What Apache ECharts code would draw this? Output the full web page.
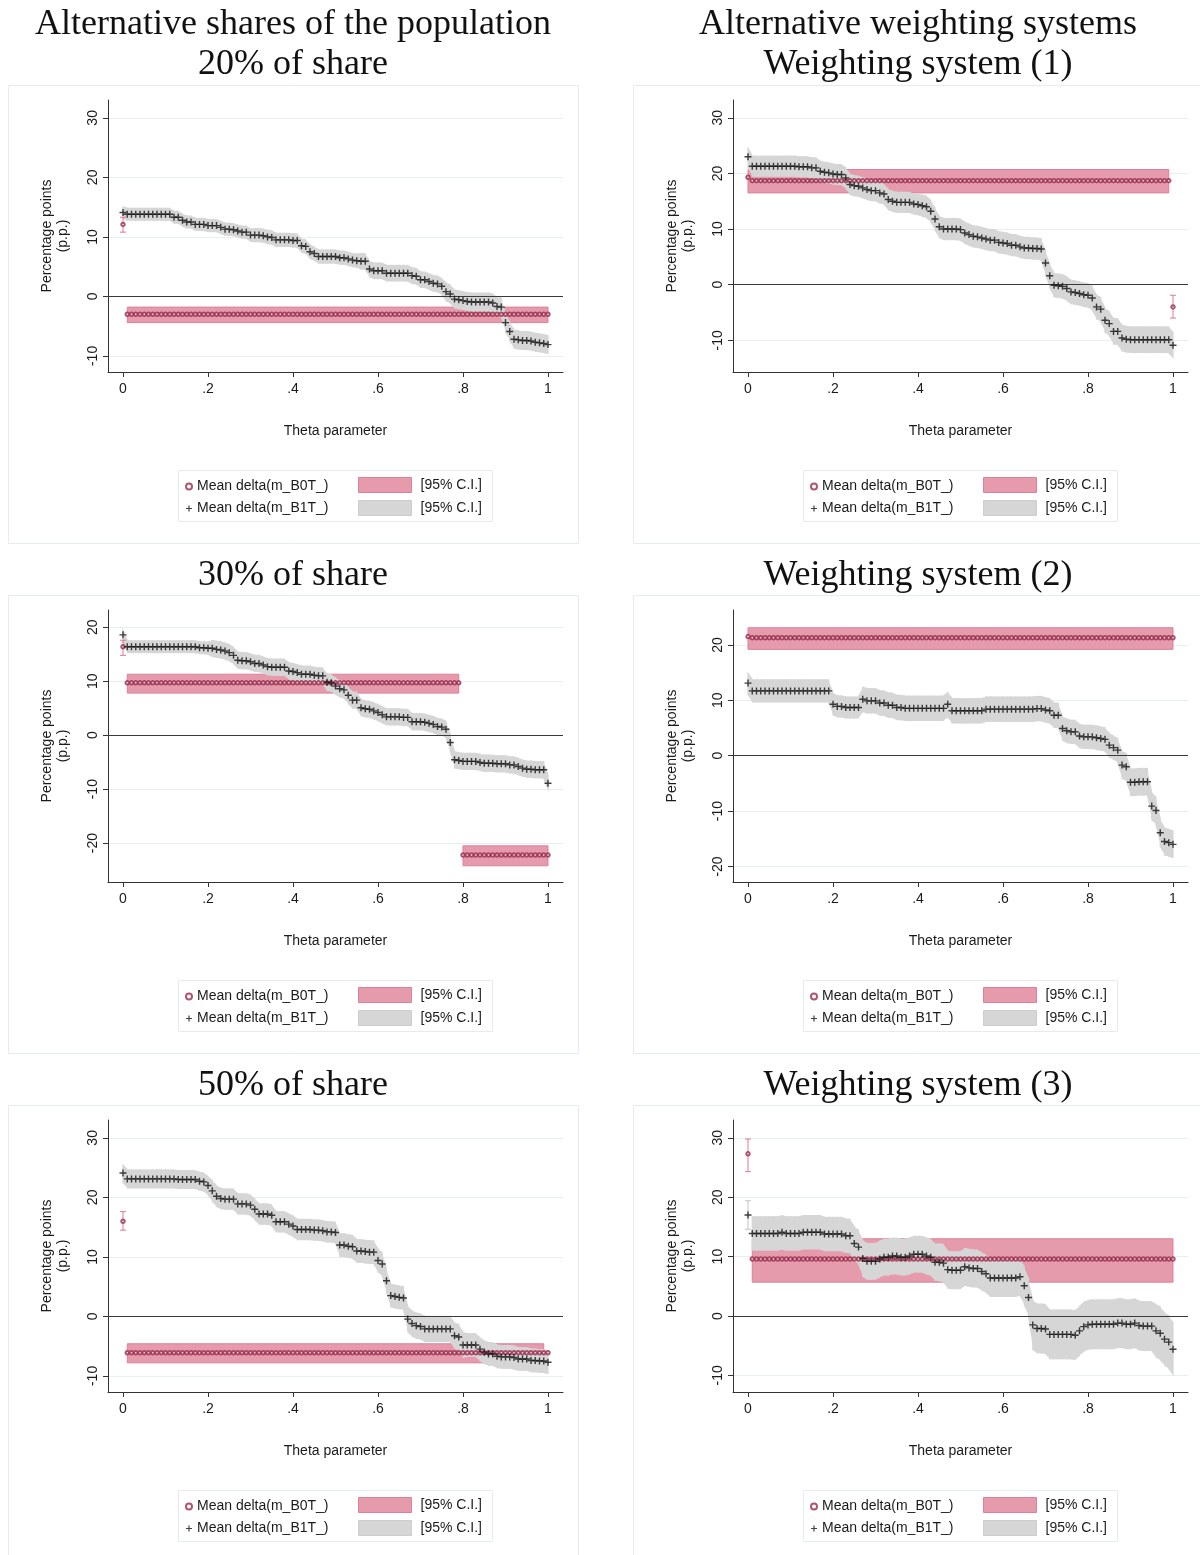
<!DOCTYPE html>
<html>
<head>
<meta charset="utf-8">
<script src="https://cdn.jsdelivr.net/npm/echarts/dist/echarts.min.js"></script>
<style>
  html, body { margin: 0; padding: 0; background: #fff; overflow: hidden; }
  body { position: relative; width: 1200px; height: 1555px; }
  .panel { position: absolute; width: 586px; height: 545px; }
</style>
</head>
<body>
<div class="panel" id="p0" style="left:0;top:0"></div>
<div class="panel" id="p1" style="left:625px;top:0"></div>
<div class="panel" id="p2" style="left:0;top:510px"></div>
<div class="panel" id="p3" style="left:625px;top:510px"></div>
<div class="panel" id="p4" style="left:0;top:1020px"></div>
<div class="panel" id="p5" style="left:625px;top:1020px"></div>
<script>
// theta grid goes 0, .01, ... 1 (101 points)
const thetaStep = 0.01
const xTicks = [0, 0.2, 0.4, 0.6, 0.8, 1]

// Mean delta(m_B1T_), one value per theta
const b1Share20 = [
  14.1, 13.8, 13.8, 13.8, 13.8, 13.8, 13.8, 13.8, 13.8, 13.8,
  13.8, 13.8, 13.3, 13.3, 12.8, 12.5, 12.5, 12.1, 12.1, 12.1,
  11.9, 11.9, 11.9, 11.6, 11.3, 11.3, 11.2, 11.0, 10.8, 10.8,
  10.3, 10.3, 10.3, 10.2, 10.0, 9.9, 9.5, 9.5, 9.5, 9.5,
  9.4, 9.4, 8.5, 8.4, 7.5, 7.2, 6.7, 6.7, 6.7, 6.7,
  6.7, 6.5, 6.5, 6.3, 6.1, 6.0, 5.9, 5.9, 4.6, 4.3,
  4.3, 4.3, 3.9, 3.9, 3.9, 3.9, 3.9, 3.9, 3.5, 3.4,
  2.8, 2.8, 2.5, 2.2, 2.1, 1.7, 0.8, 0.4, -0.45, -0.55,
  -0.7, -0.85, -0.95, -0.95, -0.95, -0.95, -0.95, -1.1, -1.7, -1.8,
  -4.4, -5.9, -7.2, -7.3, -7.4, -7.4, -7.5, -7.7, -7.8, -7.9, -8.1
]
const b1Ws1 = [
  23.0, 21.3, 21.3, 21.3, 21.3, 21.3, 21.3, 21.3, 21.3, 21.3,
  21.3, 21.3, 21.2, 21.2, 21.2, 21.0, 21.0, 20.4, 20.2, 20.1,
  19.9, 19.8, 19.8, 19.2, 18.0, 17.8, 17.7, 17.4, 17.1, 16.9,
  16.9, 16.5, 16.3, 15.3, 15.0, 14.8, 14.8, 14.8, 14.8, 14.5,
  14.4, 14.2, 14.0, 13.2, 11.8, 10.4, 10.0, 10.0, 10.0, 10.0,
  9.9, 9.3, 9.0, 8.7, 8.6, 8.4, 8.2, 8.0, 8.0, 7.6,
  7.5, 7.4, 7.1, 7.1, 6.8, 6.6, 6.6, 6.5, 6.5, 6.4,
  3.9, 1.6, -0.1, -0.2, -0.3, -0.7, -1.3, -1.4, -1.6, -1.8,
  -1.9, -2.4, -4.0, -4.4, -6.4, -7.0, -8.4, -8.4, -9.6, -9.8,
  -9.9, -9.9, -9.9, -9.9, -9.9, -9.9, -9.9, -9.9, -9.9, -9.9, -10.9
]
const b1Share30 = [
  18.6, 16.4, 16.4, 16.4, 16.4, 16.4, 16.4, 16.4, 16.4, 16.4,
  16.4, 16.4, 16.4, 16.4, 16.4, 16.4, 16.4, 16.4, 16.2, 16.2,
  16.1, 16.1, 15.9, 15.8, 15.6, 15.3, 14.8, 13.9, 13.8, 13.8,
  13.6, 13.3, 13.3, 13.0, 12.7, 12.6, 12.6, 12.6, 12.6, 11.9,
  11.8, 11.6, 11.3, 11.3, 11.3, 11.1, 11.0, 11.0, 9.8, 9.7,
  9.1, 8.6, 8.4, 7.4, 6.5, 6.5, 5.1, 4.9, 4.8, 4.5,
  4.2, 3.8, 3.4, 3.4, 3.4, 3.4, 3.3, 3.3, 2.5, 2.5,
  2.5, 2.4, 2.2, 2.0, 1.6, 1.5, 1.1, -1.35, -4.55, -4.7,
  -4.85, -4.85, -4.85, -4.85, -5.05, -5.2, -5.2, -5.2, -5.3, -5.3,
  -5.3, -5.5, -5.5, -5.8, -6.1, -6.3, -6.3, -6.4, -6.4, -6.4, -8.9
]
const b1Ws2 = [
  13.1, 11.7, 11.7, 11.7, 11.7, 11.7, 11.7, 11.7, 11.7, 11.7,
  11.7, 11.7, 11.7, 11.7, 11.7, 11.7, 11.7, 11.7, 11.7, 11.7,
  9.3, 8.9, 8.9, 8.7, 8.7, 8.7, 8.7, 10.2, 9.9, 9.9,
  9.9, 9.5, 9.5, 9.1, 9.1, 8.7, 8.7, 8.55, 8.55, 8.55,
  8.55, 8.55, 8.55, 8.55, 8.55, 8.55, 8.55, 9.3, 8.1, 8.1,
  8.1, 8.1, 8.1, 8.1, 8.1, 8.1, 8.4, 8.4, 8.4, 8.4,
  8.4, 8.4, 8.4, 8.4, 8.4, 8.4, 8.4, 8.4, 8.5, 8.5,
  8.25, 8.1, 7.3, 7.3, 4.9, 4.5, 4.3, 4.3, 3.55, 3.4,
  3.4, 3.4, 3.25, 3.1, 2.95, 1.9, 1.45, 1.0, -1.7, -2.0,
  -4.8, -4.8, -4.7, -4.7, -4.7, -9.1, -9.9, -13.9, -15.5, -15.7, -16.0
]
const b1Share50 = [
  24.1, 23.1, 23.1, 23.1, 23.1, 23.1, 23.1, 23.1, 23.1, 23.1,
  23.1, 23.1, 23.1, 23.0, 23.0, 23.0, 23.0, 23.0, 22.7, 22.6,
  22.0, 21.1, 20.2, 19.8, 19.7, 19.7, 19.7, 18.9, 18.9, 18.9,
  18.7, 18.0, 17.2, 17.2, 17.2, 17.0, 15.9, 15.9, 15.9, 15.5,
  15.2, 14.6, 14.6, 14.6, 14.6, 14.5, 14.5, 14.4, 14.2, 14.2,
  14.1, 12.0, 12.0, 11.8, 11.7, 11.0, 11.0, 10.9, 10.8, 10.8,
  9.4, 8.8, 6.0, 3.5, 3.35, 3.2, 3.1, -0.45, -1.2, -1.55,
  -1.7, -2.1, -2.1, -2.1, -2.1, -2.1, -2.1, -2.1, -3.25, -3.45,
  -4.8, -4.8, -4.8, -4.8, -5.5, -6.0, -6.3, -6.3, -6.7, -6.8,
  -6.8, -6.8, -6.9, -7.15, -7.15, -7.15, -7.4, -7.4, -7.5, -7.5, -7.7
]
const b1Ws3 = [
  17.0, 13.9, 13.9, 13.9, 13.9, 13.9, 13.9, 13.9, 14.1, 13.9,
  13.9, 13.9, 13.9, 14.1, 14.1, 14.1, 14.1, 14.1, 13.8, 13.8,
  13.8, 13.8, 13.8, 13.5, 13.5, 12.2, 11.6, 9.7, 9.2, 9.2,
  9.2, 9.6, 9.9, 9.9, 10.1, 10.1, 9.9, 9.9, 10.1, 10.4,
  10.4, 10.4, 10.1, 9.9, 9.05, 9.05, 8.9, 7.8, 7.7, 7.7,
  7.7, 8.3, 8.1, 8.0, 8.0, 7.5, 7.1, 6.4, 6.4, 6.4,
  6.4, 6.4, 6.4, 6.4, 6.6, 5.1, 3.1, -1.5, -2.1, -2.1,
  -2.2, -3.1, -3.1, -3.1, -3.1, -3.1, -3.1, -3.25, -2.5, -1.8,
  -1.5, -1.4, -1.4, -1.4, -1.4, -1.4, -1.4, -1.2, -1.2, -1.4,
  -1.4, -1.2, -1.6, -1.7, -1.7, -1.7, -2.5, -2.9, -3.9, -4.4, -5.6
]

// half width of the grey 95% band, as [half, run length]
const b1HalfShare20 = [[1.1, 31], [1.2, 25], [1.4, 20], [1.6, 25]]
const b1HalfWs1 = [[1.9, 41], [2.0, 29], [2.2, 16], [2.4, 15]]
const b1HalfShare30 = [[1.4, 1], [1.2, 20], [1.6, 80]]
const b1HalfWs2 = [[2.1, 20], [2.0, 7], [2.3, 47], [2.2, 14], [2.5, 13]]
const b1HalfShare50 = [[1.6, 21], [1.8, 30], [2.0, 16], [2.2, 14], [2.0, 20]]
const b1HalfWs3 = [[null, 1], [2.9, 26], [3.1, 18], [3.2, 22], [4.2, 29], [4.5, 5]]

// Mean delta(m_B0T_) as [value, run length]
const b0Share20 = [[12.1, 1], [-3.0, 100]]
const b0Ws1 = [[19.3, 1], [18.7, 99], [-4.0, 1]]
const b0Share30 = [[16.4, 1], [9.7, 79], [-22.2, 21]]
const b0Ws2 = [[21.5, 1], [21.3, 100]]
const b0Share50 = [[16.0, 1], [-6.1, 100]]
const b0Ws3 = [[27.3, 1], [9.6, 100]]

// pink 95% band of B0T: [theta from, theta to, lo, hi]
const b0BandShare20 = [[0.01, 1.00, -4.4, -1.8]]
const b0BandWs1 = [[0.00, 0.99, 16.5, 20.7]]
const b0BandShare30 = [[0.01, 0.79, 7.8, 11.3], [0.80, 1.00, -24.2, -20.5]]
const b0BandWs2 = [[0.00, 1.00, 19.2, 23.1]]
const b0BandShare50 = [[0.01, 0.99, -7.8, -4.6]]
const b0BandWs3 = [[0.01, 1.00, 5.7, 13.0]]

// single points drawn with capped spikes: [theta, lo, hi]
const b0ErrShare20 = [[0, 10.8, 13.3]]
const b0ErrWs1 = [[1, -6.0, -1.9]]
const b0ErrShare30 = [[0, 14.8, 17.6]]
const b0ErrShare50 = [[0, 14.5, 17.6]]
const b0ErrWs3 = [[0, 24.3, 29.8]]
const b1ErrWs3 = [[0, 14.6, 19.4]]

const panels = [
  { id: 'p0', title: 'Alternative shares of the population\n20% of share', yMin: -12.7, yMax: 33.0, yTicks: [-10, 0, 10, 20, 30],
    b1: b1Share20, half: b1HalfShare20, b0: b0Share20, band: b0BandShare20, b0Err: b0ErrShare20, b1Err: [] },
  { id: 'p1', title: 'Alternative weighting systems\nWeighting system (1)', yMin: -15.7, yMax: 33.2, yTicks: [-10, 0, 10, 20, 30],
    b1: b1Ws1, half: b1HalfWs1, b0: b0Ws1, band: b0BandWs1, b0Err: b0ErrWs1, b1Err: [] },
  { id: 'p2', title: '30% of share', yMin: -27.2, yMax: 23.2, yTicks: [-20, -10, 0, 10, 20],
    b1: b1Share30, half: b1HalfShare30, b0: b0Share30, band: b0BandShare30, b0Err: b0ErrShare30, b1Err: [] },
  { id: 'p3', title: 'Weighting system (2)', yMin: -22.8, yMax: 26.3, yTicks: [-20, -10, 0, 10, 20],
    b1: b1Ws2, half: b1HalfWs2, b0: b0Ws2, band: b0BandWs2, b0Err: [], b1Err: [] },
  { id: 'p4', title: '50% of share', yMin: -12.7, yMax: 33.0, yTicks: [-10, 0, 10, 20, 30],
    b1: b1Share50, half: b1HalfShare50, b0: b0Share50, band: b0BandShare50, b0Err: b0ErrShare50, b1Err: [] },
  { id: 'p5', title: 'Weighting system (3)', yMin: -12.8, yMax: 33.0, yTicks: [-10, 0, 10, 20, 30],
    b1: b1Ws3, half: b1HalfWs3, b0: b0Ws3, band: b0BandWs3, b0Err: b0ErrWs3, b1Err: b1ErrWs3 }
]

const sans = '"Liberation Sans Narrow", "Liberation Sans", Arial, sans-serif'
const pink = '#e69bad'
const pinkEdge = '#dc8199'
const grey = '#d6d6d6'
const nameB0 = 'Mean delta(m_B0T_)'
const nameB1 = 'Mean delta(m_B1T_)'
const nameCI0 = '[95% C.I.]'
const nameCI1 = '[95% C.I.]\u200b'
const plusPath = 'path://M4 0H6V4H10V6H6V10H4V6H0V4H4Z'

function expandRuns(runs) {
  const out = []
  runs.forEach(([v, n]) => { for (let k = 0; k < n; k++) out.push(v) })
  return out
}

function fmtTheta(v) {
  if (v === 0) return '0'
  if (v === 1) return '1'
  return String(Math.round(v * 10) / 10).replace('0.', '.')
}

function renderQuad(params, api) {
  const x0 = api.value(0), x1 = api.value(3)
  const a = api.coord([x0, api.value(2)])
  const b = api.coord([x1, api.value(5)])
  const c = api.coord([x1, api.value(4)])
  const d = api.coord([x0, api.value(1)])
  const pad = 0.6
  return {
    type: 'polygon',
    shape: { points: [[a[0] - pad, a[1]], [b[0] + pad, b[1]], [c[0] + pad, c[1]], [d[0] - pad, d[1]]] },
    style: { fill: api.visual('color') }
  }
}

function renderRect(params, api) {
  const p0 = api.coord([api.value(0), api.value(3)])
  const p1 = api.coord([api.value(1), api.value(2)])
  return {
    type: 'rect',
    shape: { x: p0[0], y: p0[1], width: p1[0] - p0[0], height: p1[1] - p0[1] },
    style: { fill: api.visual('color'), stroke: pinkEdge, lineWidth: 1 }
  }
}

function renderErr(params, api) {
  const top = api.coord([api.value(0), api.value(2)])
  const bot = api.coord([api.value(0), api.value(1)])
  const w = 3
  const style = { stroke: api.visual('color'), lineWidth: 1 }
  return {
    type: 'group',
    children: [
      { type: 'line', shape: { x1: top[0], y1: top[1], x2: bot[0], y2: bot[1] }, style },
      { type: 'line', shape: { x1: top[0] - w, y1: top[1], x2: top[0] + w, y2: top[1] }, style },
      { type: 'line', shape: { x1: bot[0] - w, y1: bot[1], x2: bot[0] + w, y2: bot[1] }, style }
    ]
  }
}

function buildOption(p) {
  const half = expandRuns(p.half)
  const b0 = expandRuns(p.b0)
  const b1Points = p.b1.map((v, i) => [i * thetaStep, v])
  const b0Points = b0.map((v, i) => [i * thetaStep, v])
  // grey band pieces between neighbouring thetas
  const quads = []
  for (let i = 0; i < p.b1.length - 1; i++) {
    if (half[i] == null || half[i + 1] == null) continue
    quads.push([i * thetaStep, p.b1[i] - half[i], p.b1[i] + half[i],
      (i + 1) * thetaStep, p.b1[i + 1] - half[i + 1], p.b1[i + 1] + half[i + 1]])
  }
  const labelFont = { fontFamily: sans, fontSize: 14, color: '#1a1a1a' }

  return {
    animation: false,
    title: {
      text: p.title,
      left: 'center',
      top: p.title.indexOf('\n') > 0 ? 5 : 46,
      padding: 0,
      textStyle: { fontFamily: '"Liberation Serif", "Times New Roman", serif', fontSize: 36, fontWeight: 'normal', color: '#111', lineHeight: 40 }
    },
    graphic: [
      { type: 'rect', silent: true, z: -1, shape: { x: 8.5, y: 85.5, width: 570, height: 458 }, style: { fill: 'none', stroke: '#e4ecf0', lineWidth: 1 } },
      { type: 'rect', silent: true, z: -1, shape: { x: 178.5, y: 470.5, width: 314, height: 51 }, style: { fill: 'none', stroke: '#e4ecf0', lineWidth: 1 } }
    ],
    legend: [
      {
        orient: 'vertical', left: 185, top: 479, padding: 0, itemGap: 7, itemWidth: 6, itemHeight: 6,
        selectedMode: false,
        textStyle: Object.assign({ lineHeight: 15 }, labelFont),
        data: [nameB0, nameB1]
      },
      {
        orient: 'vertical', left: 358, top: 477, padding: 0, itemGap: 7, itemWidth: 53, itemHeight: 15,
        selectedMode: false,
        textStyle: Object.assign({ lineHeight: 15, padding: [0, 0, 0, 4] }, labelFont),
        data: [
          { name: nameCI0, icon: 'rect', itemStyle: { color: pink, borderColor: pinkEdge, borderWidth: 1 } },
          { name: nameCI1, icon: 'rect', itemStyle: { color: grey, borderColor: '#cdcdcd', borderWidth: 1 } }
        ]
      }
    ],
    grid: { left: 108, top: 100, width: 455, height: 272 },
    xAxis: {
      type: 'value', min: -0.0353, max: 1.0353,
      name: 'Theta parameter', nameLocation: 'middle', nameGap: 52,
      nameTextStyle: labelFont,
      axisLine: { onZero: false, lineStyle: { color: '#333', width: 1 } },
      axisTick: { customValues: xTicks, length: 5, lineStyle: { color: '#333' } },
      axisLabel: Object.assign({ customValues: xTicks, formatter: fmtTheta, margin: 10 }, labelFont),
      splitLine: { show: false }
    },
    yAxis: {
      type: 'value', min: p.yMin, max: p.yMax,
      name: 'Percentage points\n(p.p.)', nameLocation: 'middle', nameGap: 37,
      nameTextStyle: Object.assign({ lineHeight: 16 }, labelFont),
      axisLine: { show: true, onZero: false, lineStyle: { color: '#333', width: 1 } },
      axisTick: { show: true, customValues: p.yTicks, length: 5, lineStyle: { color: '#333' } },
      axisLabel: Object.assign({ customValues: p.yTicks, rotate: 90, margin: 8 }, labelFont),
      splitLine: { show: true, lineStyle: { color: '#e8eff2', width: 1 } }
    },
    series: [
      {
        name: nameCI0, type: 'custom', z: 1, renderItem: renderRect,
        itemStyle: { color: pink },
        encode: { x: [0, 1], y: [2, 3] },
        data: p.band,
        markLine: {
          silent: true, symbol: 'none', label: { show: false },
          lineStyle: { color: '#3a3a3a', width: 1, type: 'solid' },
          data: [{ yAxis: 0 }]
        }
      },
      {
        name: nameCI1, type: 'custom', z: 2, renderItem: renderQuad,
        itemStyle: { color: grey },
        encode: { x: [0, 3], y: [1, 2, 4, 5] },
        data: quads
      },
      {
        type: 'custom', z: 3, renderItem: renderErr,
        itemStyle: { color: '#e07890' },
        encode: { x: 0, y: [1, 2] },
        data: p.b0Err
      },
      {
        type: 'custom', z: 3, renderItem: renderErr,
        itemStyle: { color: '#c4c4c4' },
        encode: { x: 0, y: [1, 2] },
        data: p.b1Err
      },
      {
        name: nameB0, type: 'scatter', z: 4,
        symbol: 'emptyCircle', symbolSize: 3.5,
        itemStyle: { color: '#9a2a4c', borderWidth: 0.8 },
        data: b0Points
      },
      {
        name: nameB1, type: 'scatter', z: 5,
        symbol: plusPath, symbolSize: 7,
        itemStyle: { color: '#111' },
        data: b1Points
      }
    ]
  }
}

panels.forEach((p) => {
  const chart = echarts.init(document.getElementById(p.id))
  chart.setOption(buildOption(p))
})
</script>
</body>
</html>
